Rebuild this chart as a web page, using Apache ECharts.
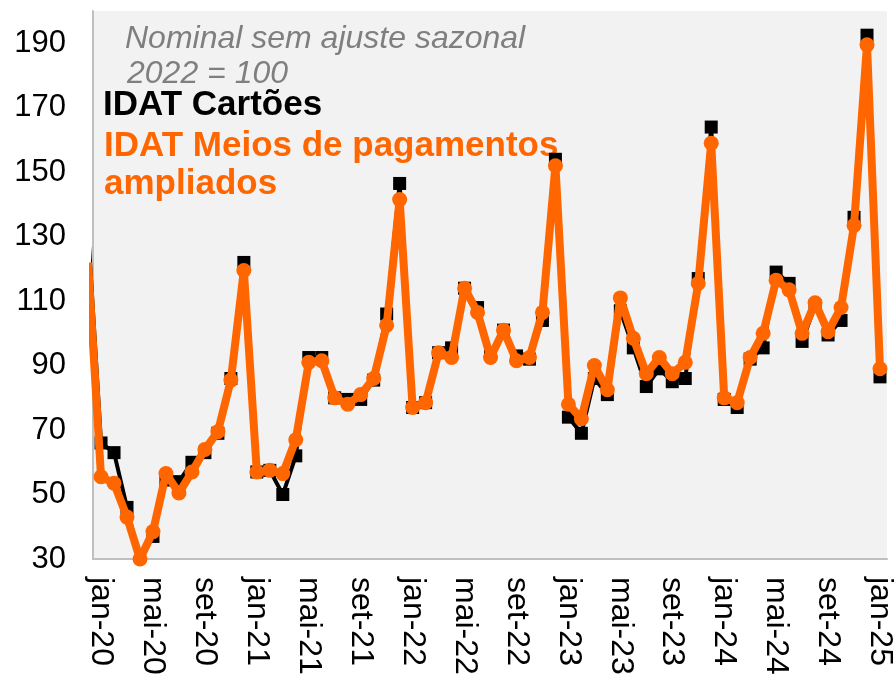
<!DOCTYPE html>
<html>
<head>
<meta charset="utf-8">
<script src="https://cdn.jsdelivr.net/npm/echarts@6/dist/echarts.min.js"></script>
<style>
  html, body { margin: 0; padding: 0; background: #fff; }
  #chart { width: 894px; height: 675px; }
</style>
</head>
<body>
<div id="chart"></div>
<script>
// meses (dez-19 fica fora da área visível, só aparece o começo da linha)
var months = ['dez-19',
  'jan-20','fev-20','mar-20','abr-20','mai-20','jun-20','jul-20','ago-20','set-20','out-20','nov-20','dez-20',
  'jan-21','fev-21','mar-21','abr-21','mai-21','jun-21','jul-21','ago-21','set-21','out-21','nov-21','dez-21',
  'jan-22','fev-22','mar-22','abr-22','mai-22','jun-22','jul-22','ago-22','set-22','out-22','nov-22','dez-22',
  'jan-23','fev-23','mar-23','abr-23','mai-23','jun-23','jul-23','ago-23','set-23','out-23','nov-23','dez-23',
  'jan-24','fev-24','mar-24','abr-24','mai-24','jun-24','jul-24','ago-24','set-24','out-24','nov-24','dez-24',
  'jan-25'];

var cartoes = [132,
  66, 63, 46, 29.5, 37, 54.5, 54, 60, 63, 69, 86, 122,
  57, 57.5, 50, 62, 92.5, 92.5, 80, 79.5, 79.5, 85.5, 106, 146.5,
  77, 78.5, 94, 95.5, 114, 108, 94, 101, 93, 92, 104, 154,
  74, 69, 86, 81, 107, 95.5, 83.5, 89, 85, 86, 117, 164,
  79.5, 77, 92, 95.5, 119, 115.5, 97.5, 108.5, 99.5, 104, 136, 192.5,
  86.5];

var ampliados = [122,
  55.5, 53.5, 43, 30, 38.5, 56.5, 50.5, 57, 64, 69.5, 85.5, 119.5,
  57, 57.5, 56.5, 67, 91, 91.5, 80, 78, 81, 86, 102.5, 141.5,
  77, 78.5, 94, 92.5, 114, 106.5, 92.5, 101, 91.5, 92.5, 106.5, 152,
  78, 73.5, 90, 82.5, 111, 98.5, 87.5, 92.5, 87.5, 91, 115.5, 159,
  80, 78.5, 92.5, 100, 116.5, 113.5, 100, 109.5, 100.5, 108, 133.5, 189.5,
  89];

// rótulos do eixo x: a cada 4 meses a partir de jan-20
var tickIdx = [];
for (var k = 0; k <= 60; k += 4) tickIdx.push(k);

function pairs(arr) {
  return arr.map(function (v, i) { return [i - 1, v]; });
}

var myChart = echarts.init(document.getElementById('chart'));
var font = '"Liberation Sans", Arial, sans-serif';

var option = {
  animation: false,
  grid: {
    left: 93, right: 7, top: 11, bottom: 116,
    outerBoundsMode: 'none',
    show: true, backgroundColor: '#f2f2f2', borderWidth: 0
  },
  xAxis: {
    type: 'value',
    min: -0.62,
    max: 60.54,
    splitLine: { show: false },
    axisLine: { show: true, onZero: false, lineStyle: { color: '#bfbfbf', width: 2 } },
    axisTick: { show: false },
    axisLabel: {
      customValues: tickIdx,
      rotate: -90,
      margin: 18,
      fontSize: 32,
      fontFamily: font,
      color: '#000',
      formatter: function (v) { return months[Math.round(v) + 1]; }
    }
  },
  yAxis: {
    type: 'value',
    min: 30,
    max: 200,
    interval: 20,
    splitLine: { show: false },
    axisLine: { show: true, onZero: false, lineStyle: { color: '#bfbfbf', width: 2 } },
    axisTick: { show: false },
    axisLabel: {
      showMaxLabel: false,
      margin: 27,
      fontSize: 31,
      fontFamily: font,
      color: '#000'
    }
  },
  graphic: [
    { type: 'text', x: 125, y: 39, style: { text: 'Nominal sem ajuste sazonal', font: 'italic 32px ' + font, fill: '#7f7f7f', verticalAlign: 'middle' } },
    { type: 'text', x: 127, y: 74, style: { text: '2022 = 100', font: 'italic 32px ' + font, fill: '#7f7f7f', verticalAlign: 'middle' } },
    { type: 'text', x: 103, y: 105, style: { text: 'IDAT Cartões', font: 'bold 35px ' + font, fill: '#000', verticalAlign: 'middle' } },
    { type: 'text', x: 104, y: 146, style: { text: 'IDAT Meios de pagamentos', font: 'bold 35px ' + font, fill: '#ff6600', verticalAlign: 'middle' } },
    { type: 'text', x: 104, y: 184, style: { text: 'ampliados', font: 'bold 35px ' + font, fill: '#ff6600', verticalAlign: 'middle' } }
  ],
  series: [
    {
      name: 'IDAT Cartões',
      type: 'line',
      data: pairs(cartoes),
      clip: true,
      symbol: 'rect',
      symbolSize: 13,
      showAllSymbol: true,
      lineStyle: { color: '#000', width: 4 },
      itemStyle: { color: '#000' },
      z: 2
    },
    {
      name: 'IDAT Meios de pagamentos ampliados',
      type: 'line',
      data: pairs(ampliados),
      clip: true,
      symbol: 'circle',
      symbolSize: 15,
      showAllSymbol: true,
      lineStyle: { color: '#ff6600', width: 8 },
      itemStyle: { color: '#ff6600' },
      z: 3
    }
  ]
};
myChart.setOption(option);
</script>
</body>
</html>
